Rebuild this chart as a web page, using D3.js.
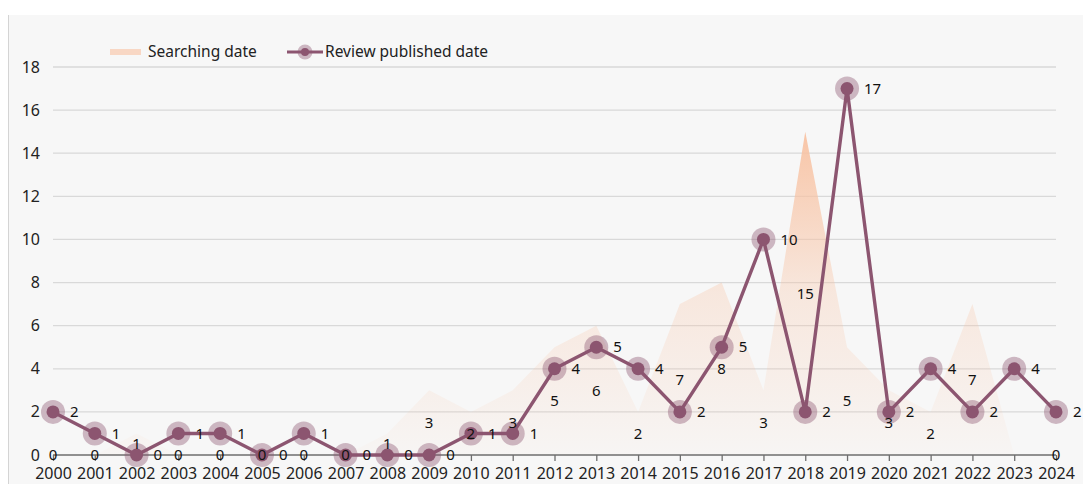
<!DOCTYPE html>
<html>
<head>
<meta charset="utf-8">
<script src="https://cdn.jsdelivr.net/npm/d3@7"></script>
<style>
  body { margin: 0; background: #fff; }
  svg { display: block; font-family: "Noto Sans", "Open Sans", sans-serif; }
</style>
</head>
<body>
<svg id="chart" width="1083" height="484"></svg>
<script>
const years = ["2000","2001","2002","2003","2004","2005","2006","2007","2008","2009","2010","2011","2012",
  "2013","2014","2015","2016","2017","2018","2019","2020","2021","2022","2023","2024"];
const searching = [0,0,1,0,0,0,0,0,1,3,2,3,5,6,2,7,8,3,15,5,3,2,7,null,0];
const published = [2,1,0,1,1,0,1,0,0,0,1,1,4,5,4,2,5,10,2,17,2,4,2,4,2];
const yTicks = [0,2,4,6,8,10,12,14,16,18];

const lineColor = "#8c5570";
const peach = "#f8c2a2";

const svg = d3.select("#chart");
const W = 1083, H = 484;

// background panel
svg.append("rect").attr("x", 8).attr("y", 15).attr("width", W - 8).attr("height", H - 15).attr("fill", "#f7f7f7");
svg.append("line").attr("x1", 8.5).attr("x2", 8.5).attr("y1", 15).attr("y2", H).attr("stroke", "#d4d4d4");

const x = d3.scalePoint().domain(years).range([53, 1056]);
const y = d3.scaleLinear().domain([0, 18]).range([455, 67]);

const defs = svg.append("defs");
const grad = defs.append("linearGradient").attr("id", "areaGrad")
  .attr("gradientUnits", "userSpaceOnUse")
  .attr("x1", 0).attr("x2", 0).attr("y1", y(15)).attr("y2", y(0));
grad.append("stop").attr("offset", "0%").attr("stop-color", peach).attr("stop-opacity", 0.95);
grad.append("stop").attr("offset", "50%").attr("stop-color", peach).attr("stop-opacity", 0.3);
grad.append("stop").attr("offset", "100%").attr("stop-color", peach).attr("stop-opacity", 0.04);

// gridlines
svg.append("g").selectAll("line").data(yTicks.slice(1)).join("line")
  .attr("x1", x(years[0])).attr("x2", x(years[years.length - 1]))
  .attr("y1", d => y(d)).attr("y2", d => y(d))
  .attr("stroke", "#d9d9d9").attr("stroke-width", 1.3);

// y labels
svg.append("g").selectAll("text").data(yTicks).join("text")
  .attr("x", 40).attr("y", d => y(d)).attr("dy", "0.35em")
  .attr("text-anchor", "end").attr("font-size", 16).attr("fill", "#222")
  .text(d => d);

// searching area
const area = d3.area()
  .x((d, i) => x(years[i]))
  .y0(y(0))
  .y1(d => y(d ?? 0));
svg.append("path").datum(searching).attr("d", area).attr("fill", "url(#areaGrad)");

// x axis
const xAxis = svg.append("g").attr("transform", `translate(0,${y(0)})`)
  .call(d3.axisBottom(x).tickSize(6).tickPadding(7));
xAxis.select(".domain").attr("stroke", "#6e6e6e").attr("stroke-width", 1.5)
  .attr("d", `M${x(years[0])},0H${x(years[years.length - 1])}`);
xAxis.selectAll(".tick line").attr("stroke", "#6e6e6e").attr("stroke-width", 1.3);
xAxis.selectAll(".tick text").attr("font-size", 16).attr("fill", "#222")
  .attr("font-family", "Noto Sans, Open Sans, sans-serif");

// published line
const line = d3.line().x((d, i) => x(years[i])).y(d => y(d));
svg.append("path").datum(published).attr("d", line)
  .attr("fill", "none").attr("stroke", lineColor).attr("stroke-width", 3.4).attr("stroke-linejoin", "round");

const pts = svg.append("g").selectAll("g").data(published).join("g")
  .attr("transform", (d, i) => `translate(${x(years[i])},${y(d)})`);
pts.append("circle").attr("r", 12).attr("fill", lineColor).attr("fill-opacity", 0.4);
pts.append("circle").attr("r", 6.5).attr("fill", lineColor);

// published labels
svg.append("g").selectAll("text").data(published).join("text")
  .attr("x", (d, i) => x(years[i]) + 17).attr("y", d => y(d)).attr("dy", "0.35em")
  .attr("font-size", 15).attr("fill", "#111")
  .text(d => d);

// searching labels (centre of area)
svg.append("g").selectAll("text").data(searching.map((v, i) => ({ v, i })).filter(d => d.v !== null)).join("text")
  .attr("x", d => x(years[d.i])).attr("y", d => y(d.v / 2)).attr("dy", "0.35em")
  .attr("text-anchor", "middle").attr("font-size", 15).attr("fill", "#111")
  .text(d => d.v);

// legend
const lg = svg.append("g").attr("transform", "translate(0,52)");
lg.append("rect").attr("x", 110).attr("y", -3).attr("width", 31).attr("height", 6).attr("fill", peach).attr("fill-opacity", 0.6);
lg.append("text").attr("x", 148).attr("y", 0).attr("dy", "0.35em").attr("font-size", 15.5).attr("fill", "#222").text("Searching date");
lg.append("line").attr("x1", 287).attr("x2", 323).attr("y1", 0).attr("y2", 0).attr("stroke", lineColor).attr("stroke-width", 3.2);
lg.append("circle").attr("cx", 305).attr("cy", 0).attr("r", 7.5).attr("fill", lineColor).attr("fill-opacity", 0.4);
lg.append("circle").attr("cx", 305).attr("cy", 0).attr("r", 4).attr("fill", lineColor);
lg.append("text").attr("x", 325).attr("y", 0).attr("dy", "0.35em").attr("font-size", 15.5).attr("fill", "#222").text("Review published date");
</script>
</body>
</html>
